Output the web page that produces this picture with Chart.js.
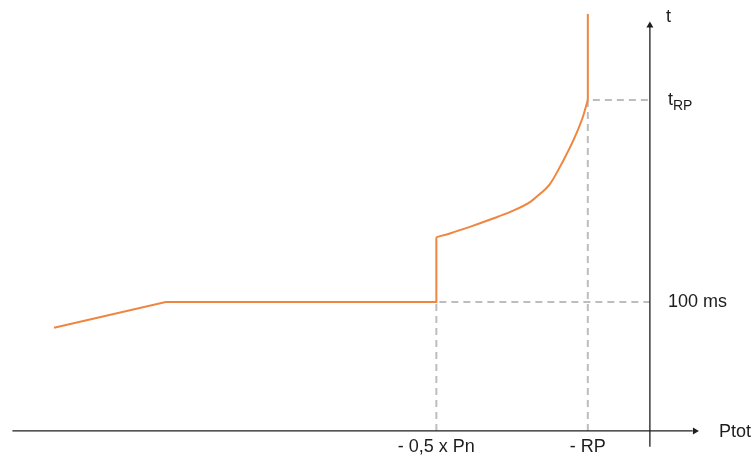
<!DOCTYPE html>
<html>
<head>
<meta charset="utf-8">
<script src="https://cdn.jsdelivr.net/npm/chart.js@4"></script>
<style>
html,body{margin:0;padding:0;background:#fff;}
#wrap{width:752px;height:457px;position:relative;}
</style>
</head>
<body>
<div id="wrap"><canvas id="c" width="752" height="457"></canvas></div>
<script>
// ---- data (power in arbitrary units, time in ms) ----
const lowX = [-96, -78, -34.4, -34.4];
const lowY = [80, 100, 100, 150.2];
const curveX = [-34.4, -32.1, -28.9, -25.6, -22.4, -19.2, -17.6, -16.2, -13.9, -12.3, -10.8, -10];
const curveY = [150.2, 153.3, 158.4, 164.1, 170.0, 177.8, 184.3, 190.7, 210.1, 225.6, 243.4, 256.6];
const topX = [-10, -10];
const topY = [256.6, 323.3];
const xTickValues = [-34.4, -10];
const xTickLabels = ['- 0,5 x Pn', '- RP'];
const guideY = [100, 256.6];
const yTickValues = [100, 256.6];
const yTickLabels = ['100 ms', 't'];
const yTickSubs = ['', 'RP'];
const xAxisName = 'Ptot';
const yAxisName = 't';
const xAxisRange = [-102.7, 7.9];
const yAxisRange = [-12.2, 317.5];

const pts = (xs, ys) => xs.map((x, i) => ({x: x, y: ys[i]}));
const ORANGE = '#EE8640';
const GREY = '#BDBDBD';
const AXIS = '#1E1E1E';

const datasets = [];
// guides
xTickValues.forEach((xv, i) => {
  datasets.push({data: pts([xv, xv, 0], [0, guideY[i], guideY[i]]), borderColor: GREY, borderWidth: 2,
    borderDash: [7, 5], pointRadius: 0, showLine: true, tension: 0, order: 5});
});
// axes
datasets.push({data: pts([xAxisRange[0], xAxisRange[1] - 1], [0, 0]), borderColor: AXIS, borderWidth: 1.3, pointRadius: 0, showLine: true, order: 4});
datasets.push({data: pts([0, 0], [yAxisRange[0], yAxisRange[1] - 3]), borderColor: AXIS, borderWidth: 1.3, pointRadius: 0, showLine: true, order: 4});
// orange curve
datasets.push({data: pts(lowX, lowY), borderColor: ORANGE, borderWidth: 2, pointRadius: 0, showLine: true, tension: 0, order: 1});
datasets.push({data: pts(curveX, curveY), borderColor: ORANGE, borderWidth: 2, pointRadius: 0, showLine: true, cubicInterpolationMode: 'monotone', order: 1});
datasets.push({data: pts(topX, topY), borderColor: ORANGE, borderWidth: 2, pointRadius: 0, showLine: true, tension: 0, order: 1});

const FONT = '"Liberation Sans", Arial, Helvetica, sans-serif';
const decor = {
  id: 'decor',
  afterDatasetsDraw(chart) {
    const ctx = chart.ctx, xs = chart.scales.x, ys = chart.scales.y;
    const ox = xs.getPixelForValue(0), oy = ys.getPixelForValue(0);
    ctx.save();
    ctx.fillStyle = AXIS;
    // x arrow
    const xt = xs.getPixelForValue(xAxisRange[1]);
    ctx.beginPath(); ctx.moveTo(xt, oy); ctx.lineTo(xt - 6, oy - 3.5); ctx.lineTo(xt - 6, oy + 3.5); ctx.closePath(); ctx.fill();
    // y arrow
    const yt = ys.getPixelForValue(yAxisRange[1]);
    ctx.beginPath(); ctx.moveTo(ox, yt); ctx.lineTo(ox - 3.5, yt + 6); ctx.lineTo(ox + 3.5, yt + 6); ctx.closePath(); ctx.fill();
    // labels
    ctx.fillStyle = '#1c1c1c';
    ctx.font = '18px ' + FONT;
    ctx.textBaseline = 'middle';
    ctx.textAlign = 'center';
    xTickValues.forEach((v, i) => ctx.fillText(xTickLabels[i], xs.getPixelForValue(v), oy + 16));
    ctx.textAlign = 'left';
    ctx.fillText(xAxisName, xt + 20, oy + 1);
    ctx.fillText(yAxisName, ox + 16, yt - 4);
    yTickValues.forEach((v, i) => {
      const py = ys.getPixelForValue(v);
      ctx.font = '18px ' + FONT;
      ctx.fillText(yTickLabels[i], ox + 18, py);
      if (yTickSubs[i]) {
        const w = ctx.measureText(yTickLabels[i]).width;
        ctx.font = '14px ' + FONT;
        ctx.fillText(yTickSubs[i], ox + 18 + w, py + 6);
      }
    });
    ctx.restore();
  }
};

new Chart(document.getElementById('c'), {
  type: 'scatter',
  data: {datasets: datasets},
  options: {
    responsive: false,
    animation: false,
    layout: {padding: 0},
    plugins: {legend: {display: false}, tooltip: {enabled: false}},
    scales: {
      x: {type: 'linear', display: false, min: -104.7, max: 16.45},
      y: {type: 'linear', display: false, min: -20.2, max: 334.1}
    }
  },
  plugins: [decor]
});
</script>
</body>
</html>
